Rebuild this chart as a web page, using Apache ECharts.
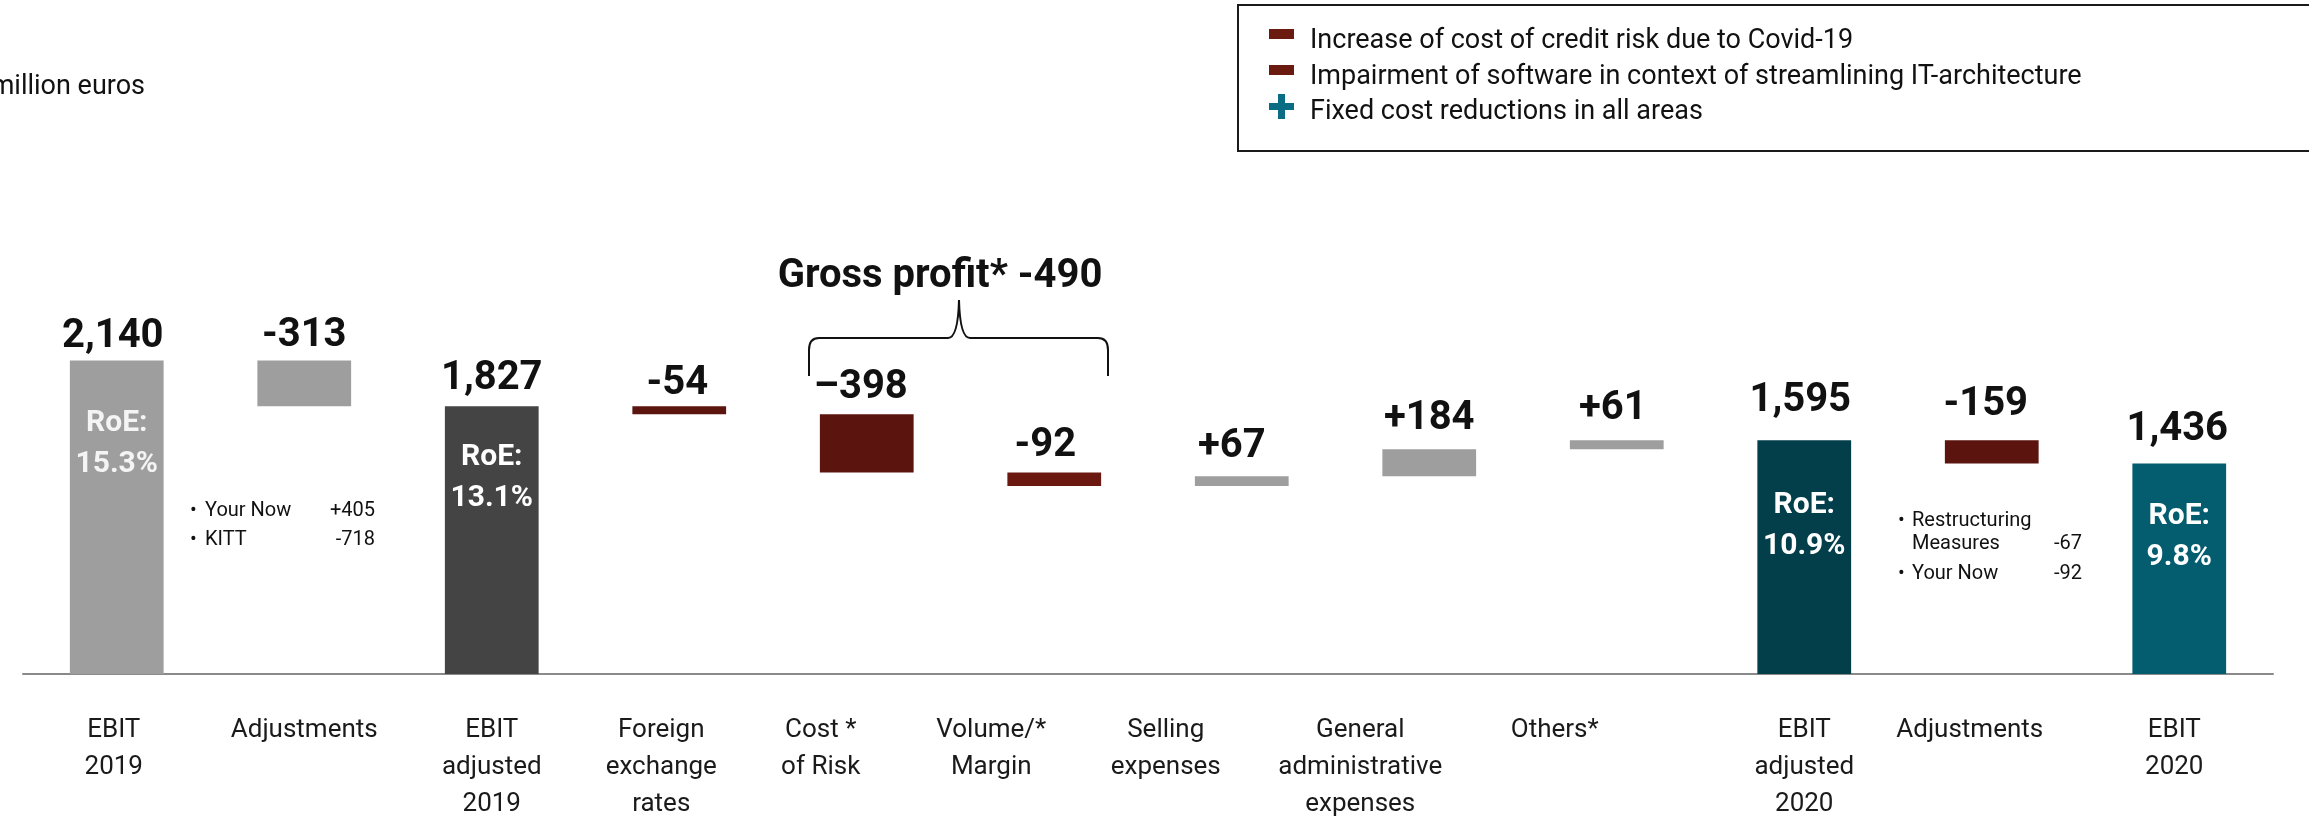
<!DOCTYPE html>
<html>
<head>
<meta charset="utf-8">
<title>EBIT bridge 2019 to 2020</title>
<script src="https://cdn.jsdelivr.net/npm/echarts@6.0.0/dist/echarts.min.js"></script>
<style>
  html, body { margin: 0; padding: 0; background: #ffffff; overflow: hidden; }
  #chart { width: 2309px; height: 823px; }
</style>
</head>
<body>
<div id="chart"></div>
<script>
// ---- data ----
const categories = [
  'EBIT\n2019', 'Adjustments', 'EBIT\nadjusted\n2019', 'Foreign\nexchange\nrates',
  'Cost *\nof Risk', 'Volume/*\nMargin', 'Selling\nexpenses',
  'General\nadministrative\nexpenses', 'Others*', 'EBIT\nadjusted\n2020',
  'Adjustments', 'EBIT\n2020'
];
// totals are absolute levels, the rest are changes to the running level
const values  = [2140, -313, 1827, -54, -398, -92, 67, 184, 61, 1595, -159, 1436];
const isTotal = [true, false, true, false, false, false, false, false, false, true, false, true];
const valueLabels = ['2,140', '-313', '1,827', '-54', '\u2013398', '-92', '+67', '+184', '+61', '1,595', '-159', '1,436'];
const roeLabels = ['15.3%', null, '13.1%', null, null, null, null, null, null, '10.9%', null, '9.8%'];
const leftNotes  = [['Your Now', '+405'], ['KITT', '-718']];
const rightNotes = [['Restructuring\nMeasures', '-67'], ['Your Now', '-92']];
const grossProfitLabel = 'Gross profit* -490';
const legendItems = [
  'Increase of cost of credit risk due to Covid-19',
  'Impairment of software in context of streamlining IT-architecture',
  'Fixed cost reductions in all areas'
];

// ---- styling ----
const GREY = '#9e9e9e', DARK_GREY = '#444444', RED = '#5b140e', RED_LIGHT = '#6a1810';
const TEAL_DARK = '#033e4b', TEAL = '#045d6f';
const barColors = [GREY, GREY, DARK_GREY, RED, RED, RED_LIGHT, GREY, GREY, GREY, TEAL_DARK, RED, TEAL];
const labelGap = [14, 15, 18, 13, 17, 17, 20, 21, 22, 30, 26, 24];   // px between value text baseline and bar top
const labelDx  = [-4, 0, 0, -2, -6, -9, -10, 0, -4, -4, -6, -2];
const roeDrop  = [70, 0, 58, 0, 0, 0, 0, 0, 0, 72, 0, 60];            // px from bar top to "RoE:" baseline
const catShift = [-3, 0, 0, -18, -46, -63, -76, -69, -62, 0, -22, -5];
const FONT = 'Roboto, "Noto Sans", sans-serif';
const VALUE_SIZE = 40, ROE_SIZE = 30;

// running waterfall levels -> [index, low, high]
let level = 0;
const bridge = values.map((v, i) => {
  let lo, hi;
  if (isTotal[i]) { lo = 0; hi = v; level = v; }
  else { lo = Math.min(level, level + v); hi = Math.max(level, level + v); level += v; }
  return [i, lo, hi];
});

function txt(x, y, text, size, opts) {
  opts = opts || {};
  return {
    type: 'text', x: x, y: y, silent: true,
    style: {
      text: text, fontSize: size, fontFamily: FONT, fontWeight: opts.weight || 'normal',
      fill: opts.color || '#111111',
      align: opts.align || 'left', textAlign: opts.align || 'left',
      verticalAlign: 'middle', textVerticalAlign: 'middle'
    }
  };
}
// y for a text whose baseline should sit at b
const mid = (b, size) => b - 0.24 * size;

const chart = echarts.init(document.getElementById('chart'), null, { renderer: 'canvas', width: 2309, height: 823 });

const graphics = [];
graphics.push(txt(145, mid(94, 27), 'million euros', 27, { align: 'right' }));

// legend box
graphics.push({ type: 'rect', shape: { x: 1238, y: 5, width: 1090, height: 146 },
  style: { fill: 'none', stroke: '#1a1a1a', lineWidth: 2 } });
graphics.push({ type: 'rect', shape: { x: 1269, y: 29, width: 25, height: 10 }, style: { fill: '#6b1a10' } });
graphics.push({ type: 'rect', shape: { x: 1269, y: 65, width: 25, height: 10 }, style: { fill: '#6b1a10' } });
graphics.push({ type: 'rect', shape: { x: 1269, y: 103, width: 25, height: 7 }, style: { fill: '#0b6d83' } });
graphics.push({ type: 'rect', shape: { x: 1278, y: 94, width: 7, height: 25 }, style: { fill: '#0b6d83' } });
[47.7, 83.3, 118.3].forEach((b, k) => graphics.push(txt(1310, mid(b, 27), legendItems[k], 27)));

// gross profit brace
graphics.push(txt(940, mid(287, 40), grossProfitLabel, 40, { weight: 'bold', align: 'center' }));
const braceStyle = { fill: 'none', stroke: '#111111', lineWidth: 2 };
const seg = (x1, y1, x2, y2) => ({ type: 'line', shape: { x1, y1, x2, y2 }, style: braceStyle });
const curve = (x1, y1, cx, cy, x2, y2) => ({ type: 'bezierCurve',
  shape: { x1, y1, x2, y2, cpx1: cx, cpy1: cy }, style: braceStyle });
graphics.push(
  seg(809, 376, 809, 350), curve(809, 350, 809, 338, 819, 338), seg(819, 338, 948, 338),
  curve(948, 338, 958, 338, 959, 300), curve(959, 300, 960, 338, 970, 338),
  seg(970, 338, 1098, 338), curve(1098, 338, 1108, 338, 1108, 350), seg(1108, 350, 1108, 376)
);

// bullet notes
leftNotes.forEach((n, k) => {
  const b = 516 + k * 29;
  graphics.push(txt(190, mid(b, 20), '\u2022', 20));
  graphics.push(txt(205, mid(b, 20), n[0], 20));
  graphics.push(txt(375, mid(b, 20), n[1], 20, { align: 'right' }));
});
(function () {
  const rows = [[525.7, 549], [579]];
  rightNotes.forEach((n, k) => {
    const lines = n[0].split('\n');
    const bs = rows[k];
    graphics.push(txt(1898, mid(bs[0], 20), '\u2022', 20));
    lines.forEach((ln, j) => graphics.push(txt(1912, mid(bs[j], 20), ln, 20)));
    graphics.push(txt(2082, mid(bs[bs.length - 1], 20), n[1], 20, { align: 'right' }));
  });
})();

chart.setOption({
  animation: false,
  backgroundColor: '#ffffff',
  grid: { left: 23, width: 2250, top: 307.7, height: 377.3, containLabel: false },
  xAxis: {
    type: 'category',
    data: categories.map((c, i) => ({
      value: c,
      textStyle: { padding: catShift[i] < 0 ? [0, -2 * catShift[i], 0, 0] : [0, 0, 0, 2 * catShift[i]] }
    })),
    axisLine: { show: true, lineStyle: { color: '#8a8a8a', width: 2 } },
    axisTick: { show: false },
    axisLabel: {
      interval: 0, margin: 38, color: '#1a1a1a', fontFamily: FONT, fontSize: 26,
      lineHeight: 37, align: 'center', verticalAlign: 'top'
    },
    splitLine: { show: false }
  },
  yAxis: { type: 'value', min: 0, max: 2500, show: false, splitLine: { show: false } },
  series: [{
    type: 'custom',
    data: bridge,
    encode: { x: 0, y: [1, 2] },
    renderItem: function (params, api) {
      const i = api.value(0);
      const pLo = api.coord([i, api.value(1)]);
      const pHi = api.coord([i, api.value(2)]);
      const w = api.size([1, 0])[0] * 0.5;
      const top = Math.min(pLo[1], pHi[1]);
      const bottom = Math.max(pLo[1], pHi[1]);
      const cx = pLo[0];
      const children = [
        { type: 'rect', shape: { x: cx - w / 2, y: top, width: w, height: bottom - top },
          style: { fill: barColors[i] } },
        txt(cx + labelDx[i], mid(top - labelGap[i], VALUE_SIZE), valueLabels[i], VALUE_SIZE,
            { weight: 'bold', align: 'center' })
      ];
      if (roeLabels[i]) {
        const col = i === 0 ? '#f4f4f4' : '#ffffff';
        children.push(txt(cx, mid(top + roeDrop[i], ROE_SIZE), 'RoE:', ROE_SIZE, { weight: 'bold', align: 'center', color: col }));
        children.push(txt(cx, mid(top + roeDrop[i] + 41, ROE_SIZE), roeLabels[i], ROE_SIZE, { weight: 'bold', align: 'center', color: col }));
      }
      return { type: 'group', children: children };
    }
  }],
  graphic: graphics
});
</script>
</body>
</html>
